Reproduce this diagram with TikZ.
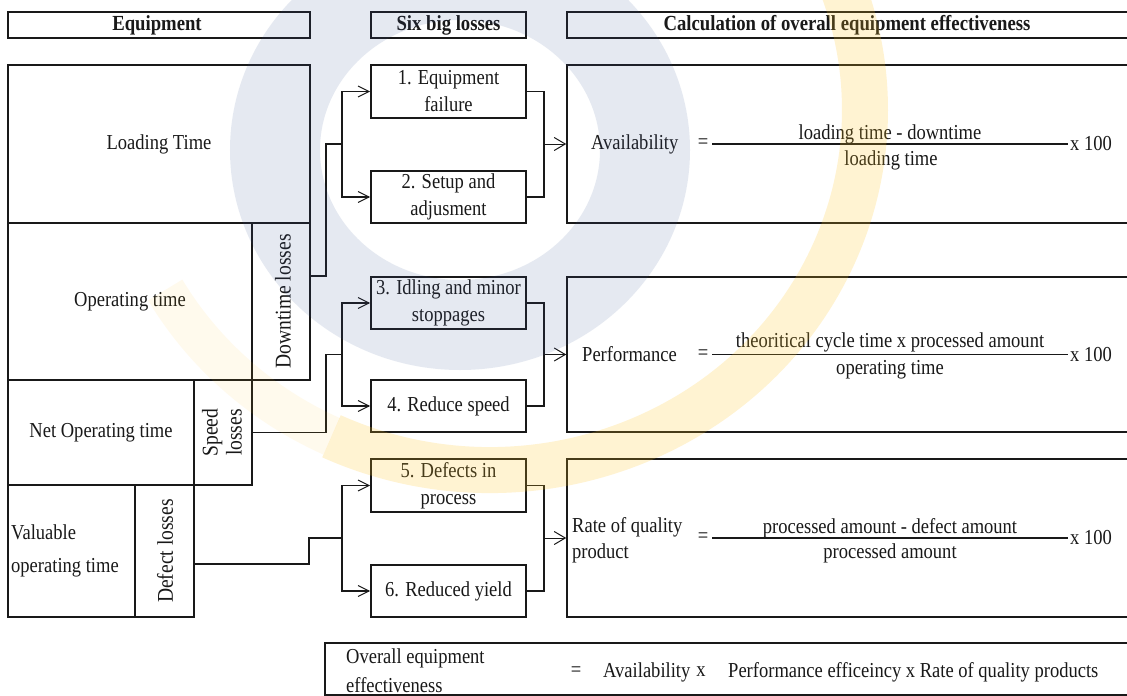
\documentclass[tikz,border=0pt]{standalone}
\usepackage{fontspec}
\setmainfont{Liberation Serif}[FakeStretch=0.87]
\usetikzlibrary{arrows.meta,calc}
\definecolor{wmblue}{RGB}{60,85,150}
\definecolor{wmyellow}{RGB}{255,195,30}
\definecolor{ink}{RGB}{25,25,25}
\begin{document}
\begin{tikzpicture}[x=1pt,y=-1pt,
  every node/.style={font=\fontsize{21.3}{27}\selectfont, text=ink, inner sep=0pt},
  boxx/.style={draw=ink, line width=1.6pt, minimum width=#1},
  hdr/.style={font=\bfseries\fontsize{21.5}{24}\selectfont},
  conn/.style={draw=ink, line width=1.6pt},
  arr/.style={conn, -{Straight Barb[length=11pt,width=11pt,line width=1pt]}},
  arrc/.style={draw=ink, line width=1pt, -{Straight Barb[length=11pt,width=13pt,line width=1pt]}},
  rot/.style={rotate=90, align=center, font=\fontsize{22.5}{24}\selectfont}
]
\useasboundingbox (0,0) rectangle (1127,696);
\fill[white] (0,0) rectangle (1127,696);

% headers
\node[boxx=302, minimum height=26] (hEq) at (159,25) {};
\node[hdr] (tEq) at (157,25) {Equipment};
\node[boxx=155, minimum height=26, hdr] (hSix) at (448.5,25) {Six big losses};
\node[boxx=573, minimum height=26] (hCalc) at (853.5,25) {};
\node[hdr] (tCalc) at (847,25) {Calculation of overall equipment effectiveness};

% equipment blocks
\node[boxx=302, minimum height=158] (load) at (159,144) {Loading Time};
\node[boxx=244, minimum height=157] (op) at (130,301.5) {Operating time};
\node[boxx=58, minimum height=157] (down) at (281,301.5) {};
\node[rot] (tDown) at (283,301.5) {Downtime losses};
\node[boxx=186, minimum height=105] (net) at (101,432.5) {Net Operating time};
\node[boxx=58, minimum height=105] (speed) at (223,432.5) {};
\node[rot] (tSpeed) at (222,432.5) {Speed\\losses};
\node[boxx=127, minimum height=132] (val) at (71.5,551) {};
\node[anchor=west] (tVal1) at (11,532) {Valuable};
\node[anchor=west] (tVal2) at (11,568) {operating time};
\node[boxx=59, minimum height=132] (def) at (164.5,551) {};
\node[rot] (tDef) at (165,551) {Defect losses};

% six big losses
\node[boxx=155, minimum height=53, align=center] (b1) at (448.5,91.5) {1. Equipment\\failure};
\node[boxx=155, minimum height=52, align=center] (b2) at (448.5,197) {2. Setup and\\adjusment};
\node[boxx=155, minimum height=52, align=center] (b3) at (448.5,303) {3. Idling and minor\\stoppages};
\node[boxx=155, minimum height=52, align=center] (b4) at (448.5,406) {4. Reduce speed};
\node[boxx=155, minimum height=53, align=center] (b5) at (448.5,485.5) {5. Defects in\\process};
\node[boxx=155, minimum height=52, align=center] (b6) at (448.5,591) {6. Reduced yield};

% calculation boxes
\node[boxx=573, minimum height=158] (c1) at (853.5,144) {};
\node[boxx=573, minimum height=155] (c2) at (853.5,354.5) {};
\node[boxx=573, minimum height=158] (c3) at (853.5,538) {};
\node[boxx=815, minimum height=52] (oee) at (732.5,669) {};

% connector junctions
\coordinate (j1) at (326,144);  \coordinate (s1) at (342,144);  \coordinate (r1) at (544,144);
\coordinate (j2) at (326,354.5);\coordinate (s2) at (342,354.5);\coordinate (r2) at (544,354.5);
\coordinate (j3) at (309,538);  \coordinate (s3) at (342,538);  \coordinate (r3) at (544,538);

\draw[conn] (down.east |- b3.north) -| (j1) -- (s1);
\draw[arr] (s1) |- (b1.west);
\draw[arr] (s1) |- (b2.west);
\draw[conn] (b1.east) -| (r1) |- (b2.east);
\draw[arrc] (r1) -- (c1.west |- r1);

\draw[conn] (speed.east) -| (j2) -- (s2);
\draw[arr] (s2) |- (b3.west);
\draw[arr] (s2) |- (b4.west);
\draw[conn] (b3.east) -| (r2) |- (b4.east);
\draw[arrc] (r2) -- (c2.west |- r2);

\draw[conn] (def.east |- b6.north) -| (j3) -- (s3);
\draw[arr] (s3) |- (b5.west);
\draw[arr] (s3) |- (b6.west);
\draw[conn] (b5.east) -| (r3) |- (b6.east);
\draw[arrc] (r3) -- (c3.west |- r3);

% formulas
\node[anchor=west] (aLab) at (591,144) {Availability};
\node (aEq) at (703,144) {=};
\coordinate (aL) at (712,144); \coordinate (aR) at (1068,144);
\draw[draw=ink, line width=1.4pt] (aL) -- (aR);
\node (aNum) at (890,134) {loading time - downtime};
\node (aDen) at (891,160) {loading time};
\node[anchor=west] (aX) at (1070,144) {x 100};

\node[anchor=west] (pLab) at (582,354.5) {Performance};
\node (pEq) at (703,354.5) {=};
\coordinate (pL) at (712,354.5); \coordinate (pR) at (1068,354.5);
\draw[draw=ink, line width=1.4pt] (pL) -- (pR);
\node (pNum) at (890,342) {theoritical cycle time x processed amount};
\node (pDen) at (890,370) {operating time};
\node[anchor=west] (pX) at (1070,354.5) {x 100};

\node[anchor=west] (rLab1) at (572,527) {Rate of quality};
\node[anchor=west] (rLab2) at (572,553) {product};
\node (rEq) at (703,538) {=};
\coordinate (rL) at (712,538); \coordinate (rR) at (1068,538);
\draw[draw=ink, line width=1.4pt] (rL) -- (rR);
\node (rNum) at (890,528) {processed amount - defect amount};
\node (rDen) at (890,553) {processed amount};
\node[anchor=west] (rX) at (1070,538) {x 100};

\node[anchor=west] (oLab1) at (346,658) {Overall equipment};
\node[anchor=west] (oLab2) at (346,685) {effectiveness};
\node (oEq) at (576,672) {=};
\node[anchor=west] (oA) at (603,672) {Availability};
\node (oX) at (701,672) {x};
\node[anchor=west] (oP) at (728,672) {Performance efficeincy x Rate of quality products};

% watermark (faint logo over the diagram, with transparency)
\begin{scope}
\clip (103,0) rectangle (896,516);
\draw[line width=40pt, draw=wmyellow, opacity=0.08] ($(490,110)+(150:375 and 360)$) arc[start angle=150, end angle=115, x radius=375, y radius=360];
\draw[line width=46pt, draw=wmyellow, opacity=0.2] ($(490,110)+(115:375 and 360)$) arc[start angle=115, end angle=-30, x radius=375, y radius=360];
\draw[line width=90pt, draw=wmblue, opacity=0.13] (460,150) ellipse [x radius=185, y radius=175];
\end{scope}
\end{tikzpicture}
\end{document}
